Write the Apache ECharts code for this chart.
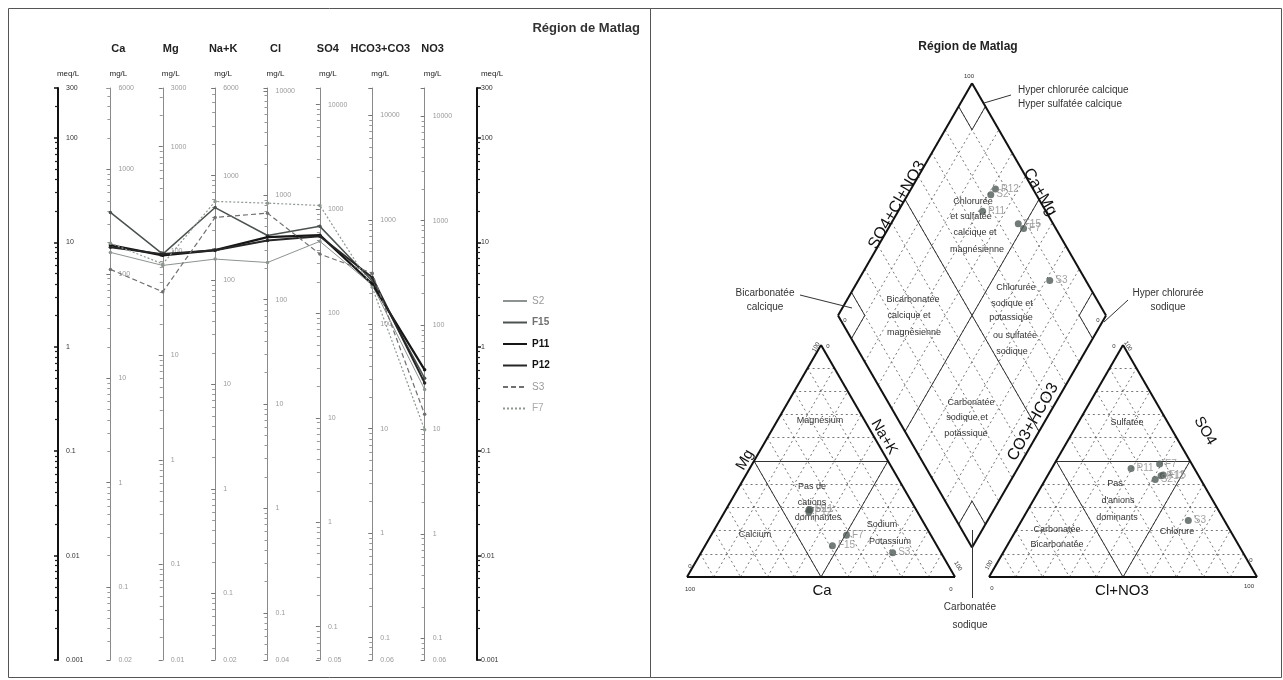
<!DOCTYPE html>
<html><head><meta charset="utf-8">
<script src="https://cdn.jsdelivr.net/npm/echarts@6/dist/echarts.min.js"></script>
<style>html,body{margin:0;padding:0;background:#fff}#c{width:1283px;height:680px}</style>
</head><body><div id="c"></div><script>
// ---------------- DATA ----------------
const samples = ['S2', 'F15', 'P11', 'P12', 'S3', 'F7'];
const ions = ['Ca', 'Mg', 'Na+K', 'Cl', 'SO4', 'HCO3+CO3', 'NO3'];
const eqWeights = [20.04, 12.15, 23.0, 35.45, 48.03, 61.02, 62.0];
const showTopLabel = [true, true, true, false, false, false, false];
// Schoeller values (meq/L), order = ions
const meqS2  = [8.0, 6.0, 6.9, 6.4, 10.2, 3.9, 0.39];
const meqF15 = [19.3, 7.7, 21.5, 11.6, 14.2, 4.25, 0.50];
const meqP11 = [9.4, 7.5, 8.4, 11.2, 11.7, 3.98, 0.60];
const meqP12 = [8.96, 7.7, 8.4, 10.4, 11.4, 4.6, 0.45];
const meqS3  = [5.5, 3.35, 17.3, 19.0, 7.7, 5.06, 0.225];
const meqF7  = [9.8, 6.2, 24.6, 23.7, 22.5, 3.7, 0.16];
const meqRange = [0.001, 300];
// Piper percentages (same sample order)
const caPct   = [40, 39, 39.5, 40.5, 18, 31.5];
const mgPct   = [29, 13.5, 29, 28, 10.5, 18];
const naPct   = [31, 47.5, 31.5, 31.5, 71.5, 50.5];
const hco3Pct = [17, 13, 23.6, 14, 13.5, 12];
const so4Pct  = [42, 44, 46.8, 43.6, 24.3, 48.7];
const clPct   = [41, 43, 29.6, 42.4, 62.2, 39.3];

// ---------------- STYLES ----------------
const meqSets = [meqS2, meqF15, meqP11, meqP12, meqS3, meqF7];
const lineColors = ['#8d938f', '#4c524e', '#161616', '#262626', '#707070', '#8f9890'];
const lineWidths = [1, 1.5, 2.2, 2, 1.2, 1.2];
const lineTypes = ['solid', 'solid', 'solid', 'solid', [5, 3], [2, 2]];
const legendText = ['#9a9a9a', '#707070', '#111', '#111', '#9a9a9a', '#aaaaaa'];
const legendWeight = ['normal', 'bold', 'bold', 'bold', 'normal', 'normal'];
const FONT = 'Liberation Sans';

function fmtNum(v) {
  v = Number(v);
  if (v >= 1) {
    const m = Math.pow(10, Math.floor(Math.log10(v) + 1e-9));
    return String(Math.floor(v / m + 1e-9) * m);
  }
  return String(Number(v.toPrecision(1)));
}

// ---------------- SCHOELLER AXES ----------------
const AX_SP = 419 / 8;
const yAxes = [];
yAxes.push({
  type: 'log', gridIndex: 0, min: meqRange[0], max: meqRange[1], position: 'left',
  name: '{u|meq/L}', nameLocation: 'end', nameGap: 8,
  nameTextStyle: { padding: [0, 0, 0, 20], rich: { u: { fontSize: 8, fontFamily: FONT, color: '#222', lineHeight: 12 } } },
  axisLine: { show: true, lineStyle: { color: '#111', width: 2 } },
  axisTick: { show: true, length: 4, lineStyle: { color: '#111', width: 1.5 } },
  minorTick: { show: true, splitNumber: 9, length: 3, lineStyle: { color: '#222', width: 1.2 } },
  axisLabel: { inside: true, fontSize: 7, fontFamily: FONT, color: '#333', formatter: fmtNum, showMinLabel: true, showMaxLabel: true },
  splitLine: { show: false }
});
ions.forEach((ion, k) => {
  yAxes.push({
    type: 'log', gridIndex: 0, min: meqRange[0] * eqWeights[k], max: meqRange[1] * eqWeights[k],
    position: 'left', offset: -(k + 1) * AX_SP,
    name: '{i|' + ion + '}\n{u|mg/L}', nameLocation: 'end', nameGap: 8,
    nameTextStyle: { padding: [0, 0, 0, 16], rich: {
      i: { fontSize: 11, fontWeight: 'bold', fontFamily: FONT, color: '#222', lineHeight: 38 },
      u: { fontSize: 8, fontFamily: FONT, color: '#222', lineHeight: 12 } } },
    axisLine: { show: true, lineStyle: { color: '#8a8a8a', width: 1 } },
    axisTick: { show: true, length: 4, lineStyle: { color: '#777' } },
    minorTick: { show: true, splitNumber: 9, length: 3, lineStyle: { color: '#999' } },
    axisLabel: { inside: true, fontSize: 7, fontFamily: FONT, color: '#9a9a9a', formatter: fmtNum, showMinLabel: true, showMaxLabel: showTopLabel[k] },
    splitLine: { show: false }
  });
});
yAxes.push({
  type: 'log', gridIndex: 0, min: meqRange[0], max: meqRange[1], position: 'right',
  name: '{u|meq/L}', nameLocation: 'end', nameGap: 8,
  nameTextStyle: { padding: [0, 0, 0, 30], rich: { u: { fontSize: 8, fontFamily: FONT, color: '#222', lineHeight: 12 } } },
  axisLine: { show: true, lineStyle: { color: '#111', width: 2 } },
  axisTick: { show: true, length: 4, lineStyle: { color: '#111', width: 1.5 } },
  minorTick: { show: true, splitNumber: 9, length: 3, lineStyle: { color: '#222', width: 1.2 } },
  axisLabel: { fontSize: 7, fontFamily: FONT, color: '#333', formatter: fmtNum, margin: 4, showMinLabel: true, showMaxLabel: true },
  splitLine: { show: false }
});

// ---------------- PIPER GEOMETRY ----------------
const SQ = Math.sqrt(3) / 2;
const GAP = 12.7;
function catXY(ca, mg, na) { const t = ca + mg + na; mg = mg / t * 100; na = na / t * 100; return [na + mg / 2, mg * SQ]; }
function anXY(hc, so, cl) { const t = hc + so + cl; so = so / t * 100; cl = cl / t * 100; return [100 + GAP + cl + so / 2, so * SQ]; }
function diaXY(na, an) { return [(na + 100 + GAP + an) / 2, SQ * (100 + GAP + an - na)]; }

const dotted = [], facies = [], frame = [];
for (let k = 10; k < 100; k += 10) {
  dotted.push([catXY(100 - k, k, 0), catXY(0, k, 100 - k)]);
  dotted.push([catXY(k, 100 - k, 0), catXY(k, 0, 100 - k)]);
  dotted.push([catXY(100 - k, 0, k), catXY(0, 100 - k, k)]);
  dotted.push([anXY(100 - k, k, 0), anXY(0, k, 100 - k)]);
  dotted.push([anXY(k, 100 - k, 0), anXY(k, 0, 100 - k)]);
  dotted.push([anXY(100 - k, 0, k), anXY(0, 100 - k, k)]);
  dotted.push([diaXY(k, 0), diaXY(k, 100)]);
  dotted.push([diaXY(0, k), diaXY(100, k)]);
}
facies.push([catXY(50, 50, 0), catXY(0, 50, 50)], [catXY(50, 50, 0), catXY(50, 0, 50)], [catXY(50, 0, 50), catXY(0, 50, 50)]);
facies.push([anXY(50, 50, 0), anXY(0, 50, 50)], [anXY(50, 50, 0), anXY(50, 0, 50)], [anXY(50, 0, 50), anXY(0, 50, 50)]);
facies.push([diaXY(50, 0), diaXY(50, 100)], [diaXY(0, 50), diaXY(100, 50)]);
facies.push([diaXY(10, 90), diaXY(10, 100)], [diaXY(0, 90), diaXY(10, 90)]);
facies.push([diaXY(10, 0), diaXY(10, 10)], [diaXY(0, 10), diaXY(10, 10)]);
facies.push([diaXY(90, 90), diaXY(90, 100)], [diaXY(90, 90), diaXY(100, 90)]);
facies.push([diaXY(90, 0), diaXY(90, 10)], [diaXY(90, 10), diaXY(100, 10)]);
frame.push([catXY(100, 0, 0), catXY(0, 0, 100)], [catXY(0, 0, 100), catXY(0, 100, 0)], [catXY(0, 100, 0), catXY(100, 0, 0)]);
frame.push([anXY(100, 0, 0), anXY(0, 0, 100)], [anXY(0, 0, 100), anXY(0, 100, 0)], [anXY(0, 100, 0), anXY(100, 0, 0)]);
frame.push([diaXY(0, 0), diaXY(0, 100)], [diaXY(0, 100), diaXY(100, 100)], [diaXY(100, 100), diaXY(100, 0)], [diaXY(100, 0), diaXY(0, 0)]);

const piperPts = [];
samples.forEach((s, i) => {
  const ct = caPct[i] + mgPct[i] + naPct[i];
  const at = hco3Pct[i] + so4Pct[i] + clPct[i];
  piperPts.push({ name: s, value: catXY(caPct[i], mgPct[i], naPct[i]) });
  piperPts.push({ name: s, value: anXY(hco3Pct[i], so4Pct[i], clPct[i]) });
  piperPts.push({ name: s, value: diaXY(naPct[i] / ct * 100, (so4Pct[i] + clPct[i]) / at * 100) });
});
const segs = arr => arr.map(p => ({ coords: p }));

// ---------------- SERIES ----------------
const series = samples.map((s, i) => ({
  name: s, type: 'line', xAxisIndex: 0, yAxisIndex: 0,
  data: meqSets[i].map((v, k) => [k + 1, v]),
  symbol: 'circle', symbolSize: 3.5,
  itemStyle: { color: lineColors[i] },
  lineStyle: { color: lineColors[i], width: lineWidths[i], type: lineTypes[i] },
  z: 5 + i
}));
series.push({ type: 'lines', coordinateSystem: 'cartesian2d', xAxisIndex: 1, yAxisIndex: 9, silent: true, z: 1,
  lineStyle: { color: '#555', width: 1, type: [2, 3], opacity: 0.8 }, data: segs(dotted) });
series.push({ type: 'lines', coordinateSystem: 'cartesian2d', xAxisIndex: 1, yAxisIndex: 9, silent: true, z: 2,
  lineStyle: { color: '#333', width: 1, opacity: 1 }, data: segs(facies) });
series.push({ type: 'lines', coordinateSystem: 'cartesian2d', xAxisIndex: 1, yAxisIndex: 9, silent: true, z: 3,
  lineStyle: { color: '#111', width: 2, opacity: 1 }, data: segs(frame) });
series.push({ name: 'piper', type: 'scatter', xAxisIndex: 1, yAxisIndex: 9, z: 6,
  symbolSize: 7, itemStyle: { color: '#4f5a56' }, data: piperPts,
  label: { show: true, position: 'right', distance: 2, formatter: '{b}', color: '#8c8c8c', fontSize: 10, fontFamily: FONT } });

// ---------------- GRAPHIC (frames, annotations) ----------------
const T = (text, x, y, o = {}) => ({ type: 'text', x, y, rotation: o.rot || 0, silent: true, z: 20,
  style: { text, fontSize: o.size || 9, fontFamily: FONT, fontWeight: o.bold ? 'bold' : 'normal',
    fill: o.color || '#333', align: o.align || 'center', verticalAlign: 'middle' } });
const L = (x1, y1, x2, y2) => ({ type: 'line', silent: true, z: 20, shape: { x1, y1, x2, y2 }, style: { stroke: '#333', lineWidth: 1 } });
const R60 = Math.PI / 3;
const graphic = [
  { type: 'rect', silent: true, z: 0, shape: { x: 8.5, y: 8.5, width: 642, height: 669 }, style: { fill: 'none', stroke: '#555', lineWidth: 1 } },
  { type: 'rect', silent: true, z: 0, shape: { x: 650.5, y: 8.5, width: 631, height: 669 }, style: { fill: 'none', stroke: '#555', lineWidth: 1 } },
  T('Région de Matlag', 640, 28, { size: 13, bold: true, align: 'right', color: '#333' }),
  T('Région de Matlag', 968, 47, { size: 12, bold: true, color: '#222' }),
  T('SO4+Cl+NO3', 897, 205, { size: 16, rot: R60, color: '#111' }),
  T('Ca+Mg', 1040, 192, { size: 16, rot: -R60, color: '#111' }),
  T('Mg', 745, 460, { size: 15, rot: R60, color: '#111' }),
  T('Na+K', 884, 437, { size: 15, rot: -R60, color: '#111' }),
  T('CO3+HCO3', 1033, 422, { size: 16, rot: R60, color: '#111' }),
  T('SO4', 1205, 431, { size: 15, rot: -R60, color: '#111' }),
  T('Ca', 822, 591, { size: 15, color: '#111' }),
  T('Cl+NO3', 1122, 591, { size: 15, color: '#111' }),
  // diamond facies
  T('Chlorurée', 973, 202), T('et sulfatée', 971, 217), T('calcique et', 975, 233), T('magnésienne', 977, 250),
  T('Chlorurée', 1016, 288), T('sodique et', 1012, 304), T('potassique', 1011, 318), T('ou sulfatée', 1015, 336), T('sodique', 1012, 352),
  T('Bicarbonatée', 913, 300), T('calcique et', 909, 316), T('magnésienne', 914, 333),
  T('Carbonatée', 971, 403), T('sodique et', 967, 418), T('potassique', 966, 434),
  // cation facies
  T('Magnésium', 820, 421), T('Pas de', 812, 487), T('cations', 812, 503), T('dominantes', 818, 518),
  T('Calcium', 755, 535), T('Sodium', 882, 525), T('Potassium', 890, 542),
  // anion facies
  T('Sulfatée', 1127, 423), T('Pas', 1115, 484), T("d'anions", 1118, 501), T('dominants', 1117, 518),
  T('Carbonatée', 1057, 530), T('Bicarbonatée', 1057, 545), T('Chlorure', 1177, 532),
  // outside annotations
  T('Hyper chlorurée calcique', 1018, 90, { size: 10, align: 'left' }),
  T('Hyper sulfatée calcique', 1018, 104, { size: 10, align: 'left' }),
  L(1011, 95, 984, 103),
  T('Bicarbonatée', 765, 293, { size: 10 }), T('calcique', 765, 307, { size: 10 }),
  L(800, 295, 852, 308),
  T('Hyper chlorurée', 1168, 293, { size: 10 }), T('sodique', 1168, 307, { size: 10 }),
  L(1104, 322, 1128, 300),
  T('Carbonatée', 970, 607, { size: 10 }), T('sodique', 970, 625, { size: 10 }),
  L(972.5, 530, 972.5, 598),
  // corner scale numbers
  T('100', 969, 76, { size: 6 }), T('0', 845, 320, { size: 6 }), T('0', 1098, 320, { size: 6 }),
  T('100', 690, 589, { size: 6 }), T('0', 690, 566, { size: 6 }), T('0', 951, 589, { size: 6 }), T('100', 958, 566, { size: 6, rot: -R60 }),
  T('100', 816, 347, { size: 6, rot: R60 }), T('0', 828, 346, { size: 6 }),
  T('0', 992, 588, { size: 6 }), T('100', 989, 565, { size: 6, rot: R60 }), T('100', 1249, 586, { size: 6 }), T('0', 1251, 560, { size: 6 }),
  T('0', 1114, 346, { size: 6 }), T('100', 1128, 346, { size: 6, rot: -R60 })
];

const option = {
  animation: false,
  backgroundColor: '#fff',
  textStyle: { fontFamily: FONT },
  grid: [
    { left: 58, top: 88, width: 419, height: 572, containLabel: false, outerBoundsMode: 'none' },
    { left: 687, top: 83, width: 570, height: 494, containLabel: false, outerBoundsMode: 'none' }
  ],
  xAxis: [
    { type: 'value', gridIndex: 0, min: 0, max: 8, show: false },
    { type: 'value', gridIndex: 1, min: 0, max: 570 / 2.68, show: false }
  ],
  yAxis: yAxes.concat([{ type: 'value', gridIndex: 1, min: 0, max: 494 / 2.68, show: false }]),
  legend: {
    orient: 'vertical', left: 497, top: 291, itemWidth: 24, itemHeight: 8, itemGap: 11.5,
    itemStyle: { opacity: 0 },
    data: samples.map((s, i) => ({ name: s, textStyle: { color: legendText[i], fontWeight: legendWeight[i], fontSize: 10, fontFamily: FONT } })),
    textStyle: { fontSize: 10, fontFamily: FONT }
  },
  series,
  graphic
};
const chart = echarts.init(document.getElementById('c'), null, { renderer: 'canvas' });
chart.setOption(option);
</script></body></html>
